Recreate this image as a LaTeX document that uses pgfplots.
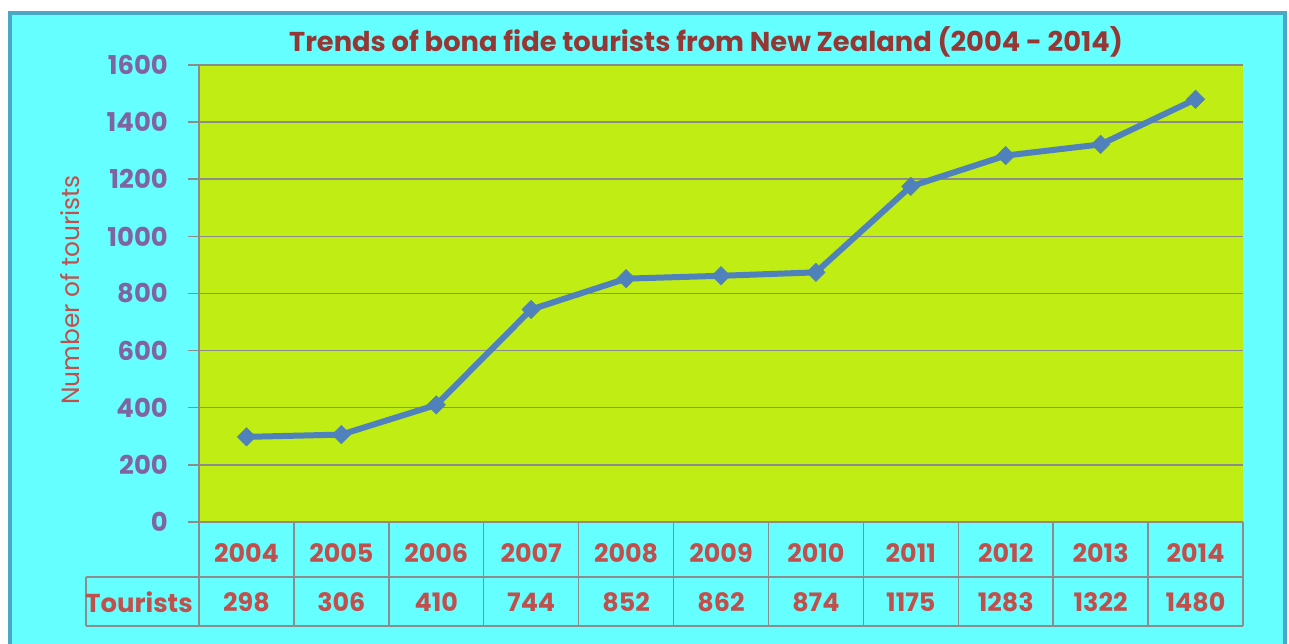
\documentclass[border=0pt]{standalone}
\usepackage{fontspec}
\setmainfont{Poppins}
\usepackage{pgfplots}
\pgfplotsset{compat=1.18}
\usepackage{pgfplotstable}
\definecolor{bgcyan}{HTML}{66FFFF}
\definecolor{bordercol}{HTML}{4BA8C4}
\definecolor{plotgreen}{HTML}{BFED14}
\definecolor{gridgray}{HTML}{8C8C8C}
\definecolor{linecol}{HTML}{4F81BD}
\definecolor{titlecol}{HTML}{953735}
\definecolor{tickpurple}{HTML}{8064A2}
\definecolor{redtext}{HTML}{C0504D}

\pgfplotstableread{
x year y
0 2004 298
1 2005 306
2 2006 410
3 2007 744
4 2008 852
5 2009 862
6 2010 874
7 2011 1175
8 2012 1283
9 2013 1322
10 2014 1480
}\datatable

\begin{document}
\begin{tikzpicture}
\useasboundingbox (0bp,0bp) rectangle (1289bp,644bp);
\fill[white] (0bp,0bp) rectangle (1289bp,644bp);
\filldraw[fill=bgcyan, draw=bordercol, line width=4.5bp] (10bp,-10bp) rectangle (1285bp,631bp);
\node[font=\bfseries\fontsize{27.4}{30}\selectfont, text=titlecol] at (706bp,602bp) {Trends of bona fide tourists from New Zealand (2004 - 2014)};
\coordinate (A) at (199bp,122bp);
\begin{axis}[
  at={(A)}, anchor=south west,
  width=1044bp, height=457bp, scale only axis,
  xmin=-0.5, xmax=10.5, ymin=0, ymax=1600,
  clip=false,
  axis background/.style={fill=plotgreen},
  axis lines=left,
  axis line style={-, draw=gridgray, line width=1.5bp},
  xtick={0,...,10},
  xticklabels from table={\datatable}{year},
  xtick style={draw=none},
  ytick={0,200,...,1600},
  ytick style={draw=gridgray, line width=1.5bp},
  tick align=outside,
  major tick length=11bp,
  ymajorgrids,
  grid style={draw=gridgray, line width=1.5bp},
  /pgf/number format/assume math mode=true,
  /pgf/number format/1000 sep={},
  yticklabel style={font=\bfseries\fontsize{26}{28}\selectfont, text=tickpurple, anchor=east, inner sep=0pt, xshift=-20bp},
  xticklabel style={font=\bfseries\fontsize{25.5}{27}\selectfont, text=redtext, anchor=center, inner sep=0pt, yshift=-20bp},
  ylabel={Number of tourists},
  ylabel style={font=\fontsize{25}{27}\selectfont, text=redtext, at={(axis description cs:-0.1236,0.508)}, anchor=center},
]
\addplot[color=linecol, line width=6bp, mark=square*, mark size=6.5bp,
  mark options={solid, fill=linecol, rotate=45, line width=0.5bp}]
  table[x=x, y=y]{\datatable};
\addplot[draw=none, mark=none, point meta=explicit symbolic,
  nodes near coords,
  nodes near coords style={font=\bfseries\fontsize{25.5}{27}\selectfont, text=redtext, anchor=center, inner sep=0pt}]
  table[x=x, y expr=-280, meta=y]{\datatable};
\end{axis}
\foreach \i in {0,...,11} \draw[gridgray, line width=1.5bp] (199bp+\i*94.909bp,122bp) -- (199bp+\i*94.909bp,18bp);
\draw[gridgray, line width=1.5bp] (86bp,67bp) -- (1243bp,67bp);
\draw[gridgray, line width=1.5bp] (86bp,18bp) -- (1243bp,18bp);
\draw[gridgray, line width=1.5bp] (86bp,67bp) -- (86bp,18bp);
\node[font=\bfseries\fontsize{26}{28}\selectfont, text=redtext, anchor=center] at (139bp,42bp) {Tourists};
\end{tikzpicture}
\end{document}
